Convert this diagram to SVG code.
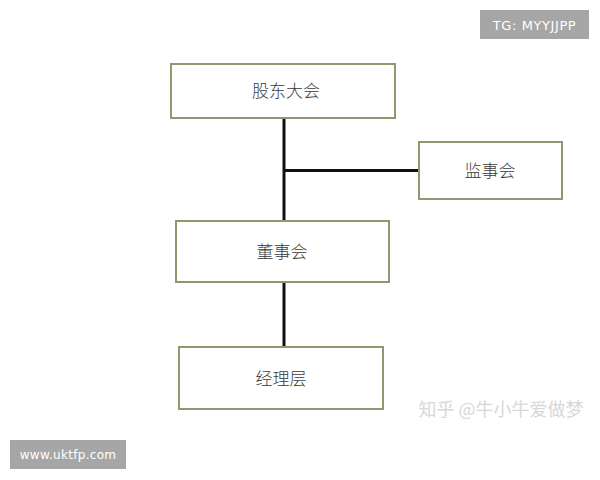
<svg xmlns="http://www.w3.org/2000/svg" width="600" height="480" viewBox="0 0 600 480">
<style>
.box{fill:#fff;stroke:#8c9b6e;stroke-width:2}
.lbl{font-family:"Liberation Serif","Noto Sans CJK SC",serif;font-size:17px;fill:#3a3a3a;text-anchor:middle;dominant-baseline:central;font-weight:300}
.con{stroke:#111;stroke-width:3;fill:none}
.badge{fill:#a6a6a6}
.btxt{font-family:"DejaVu Sans","Liberation Sans",sans-serif;font-size:12px;fill:#fff;text-anchor:middle;dominant-baseline:central;letter-spacing:0.3px}
</style>
<rect width="600" height="480" fill="#fff"/>
<g id="connectors">
<line class="con" x1="284" y1="118" x2="284" y2="221"/>
<line class="con" x1="284" y1="170.5" x2="419" y2="170.5"/>
<line class="con" x1="284" y1="282" x2="284" y2="347"/>
</g>
<g id="n1"><rect class="box" x="171" y="64" width="224" height="54"/><text class="lbl" x="286" y="91">股东大会</text></g>
<g id="n2"><rect class="box" x="419" y="142" width="143" height="57"/><text class="lbl" x="490" y="171">监事会</text></g>
<g id="n3"><rect class="box" x="176" y="221" width="213" height="61"/><text class="lbl" x="282" y="252">董事会</text></g>
<g id="n4"><rect class="box" x="179" y="347" width="204" height="62"/><text class="lbl" x="281" y="379">经理层</text></g>
<g id="tg"><rect class="badge" x="480" y="10" width="109" height="29"/><text class="btxt" x="534.5" y="25" style="font-size:13px;letter-spacing:0.6px">TG: MYYJJPP</text></g>
<g id="www"><rect class="badge" x="10" y="440" width="116" height="29"/><text class="btxt" x="68" y="455">www.uktfp.com</text></g>
<text x="501" y="408" font-family="Noto Sans CJK SC,sans-serif" font-size="18" fill="#d8d8d8" text-anchor="middle" dominant-baseline="central">知乎 @牛小牛爱做梦</text>
</svg>
